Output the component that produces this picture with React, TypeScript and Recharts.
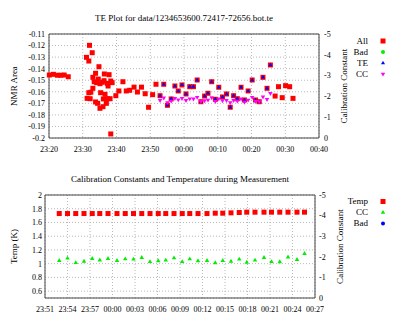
import { ScatterChart, Scatter, XAxis, YAxis, CartesianGrid } from 'recharts'

const FONT = "'Liberation Serif', 'DejaVu Serif', serif"
const AXIS = '#444'
const GRID = '#b8b8b8'

// times are minutes after 23:20
const extraTimes = [
  0.1, 1.3, 2.5, 3.5, 4.5, 5.7,
  12.0, 12.8, 11.1, 11.8, 14.8, 13.8, 13.0, 16.4, 17.8, 14.6, 13.4, 14.1, 15.1, 15.8, 16.3, 17.3, 18.3, 18.7,
  17.5, 13.0, 15.3, 16.6, 11.8, 12.4, 11.3, 12.2, 16.1, 17.3, 18.1, 13.8, 14.4, 17.0, 16.0, 15.1, 18.3,
  19.8, 20.7, 21.9, 22.9, 23.9, 25.2, 26.2, 27.4, 28.5, 29.5, 30.7, 31.7,
  67.0, 68.0, 69.1, 70.1, 71.3, 72.3,
]
const extraNmr = [
  -0.1455, -0.1449, -0.1457, -0.1457, -0.1455, -0.147,
  -0.1198, -0.1262, -0.1302, -0.1334, -0.1383, -0.144, -0.1475, -0.1446, -0.1452, -0.149, -0.1513, -0.1521, -0.153, -0.1518, -0.1504, -0.1527, -0.1507, -0.1521,
  -0.155, -0.157, -0.1608, -0.1622, -0.1608, -0.1604, -0.1657, -0.166, -0.1662, -0.166, -0.166, -0.1688, -0.17, -0.17, -0.1729, -0.1743, -0.1965,
  -0.1634, -0.1593, -0.1513, -0.1593, -0.1587, -0.156, -0.1602, -0.156, -0.1617, -0.1734, -0.1625, -0.1535,
  -0.1637, -0.1556, -0.1651, -0.1547, -0.1556, -0.1657,
]
const teTimes = [
  32.9, 34.0, 35.1, 36.2, 37.3, 38.3, 39.4, 40.6, 41.7, 42.8, 43.9, 45.0, 46.1, 47.1, 48.2, 49.3,
  50.3, 51.4, 52.6, 53.7, 54.7, 55.8, 56.9, 57.9, 59.0, 60.2, 61.2, 62.3, 63.4, 64.6, 65.6,
]
const teNmr = [
  -0.1634, -0.1535, -0.1717, -0.1662, -0.155, -0.1593, -0.1541, -0.1619, -0.1556, -0.1556, -0.1498, -0.1686, -0.1637, -0.1613, -0.1513, -0.1665,
  -0.1561, -0.1645, -0.1619, -0.1734, -0.1634, -0.166, -0.1561, -0.1671, -0.1593, -0.1498, -0.1671, -0.1686, -0.1475, -0.157, -0.1368,
]
const ccValues = [
  -1.81, -1.93, -1.71, -1.78, -1.91, -1.84, -1.91, -1.81, -1.89, -1.88, -1.96, -1.76, -1.8, -1.83, -1.94, -1.76,
  -1.89, -1.8, -1.81, -1.7, -1.81, -1.78, -1.88, -1.73, -1.83, -1.96, -1.76, -1.75, -1.98, -1.86, -2.15,
]
const temps = [
  1.73, 1.73, 1.73, 1.73, 1.73, 1.73, 1.73, 1.73, 1.73, 1.73, 1.73, 1.73, 1.73, 1.73, 1.73, 1.73,
  1.73, 1.73, 1.73, 1.735, 1.735, 1.74, 1.745, 1.75, 1.75, 1.75, 1.75, 1.75, 1.75, 1.75, 1.75,
]

const topTicks = [0, 10, 20, 30, 40, 50, 60, 70, 80]
const topTickLabels = ['23:20', '23:30', '23:40', '23:50', '00:00', '00:10', '00:20', '00:30', '00:40']
const nmrTicks = [-0.2, -0.19, -0.18, -0.17, -0.16, -0.15, -0.14, -0.13, -0.12, -0.11]
const nmrTickLabels = ['-0.2', '-0.19', '-0.18', '-0.17', '-0.16', '-0.15', '-0.14', '-0.13', '-0.12', '-0.11']
const ccTicks = [0, -1, -2, -3, -4, -5]
const ccTickLabels = ['0', '-1', '-2', '-3', '-4', '-5']
const botTicks = [31, 34, 37, 40, 43, 46, 49, 52, 55, 58, 61, 64, 67]
const botTickLabels = ['23:51', '23:54', '23:57', '00:00', '00:03', '00:06', '00:09', '00:12', '00:15', '00:18', '00:21', '00:24', '00:27']
const tempTicks = [0.6, 0.8, 1, 1.2, 1.4, 1.6, 1.8, 2]
const tempTickLabels = ['0.6', '0.8', '1', '1.2', '1.4', '1.6', '1.8', '2']

const topMinor = Array.from({ length: 41 }, (_, i) => i * 2)
const botMinor = Array.from({ length: 37 }, (_, i) => 31 + i)

const allData = [
  ...extraTimes.map((t, i) => ({ t, v: extraNmr[i] })),
  ...teTimes.map((t, i) => ({ t, v: teNmr[i] })),
]
const teData = teTimes.map((t, i) => ({ t, v: teNmr[i] }))
const ccData = teTimes.map((t, i) => ({ t, cc: ccValues[i] }))
const tempData = teTimes.map((t, i) => ({ t, temp: temps[i] }))

const tickStyle = { fontSize: 8, fill: '#000', fontFamily: FONT }

const square = (color: string, s: number) => (p: any) =>
  <rect x={p.cx - s / 2} y={p.cy - s / 2} width={s} height={s} fill={color} />
const triUp = (color: string, s: number) => (p: any) =>
  <polygon points={`${p.cx},${p.cy - s * 0.58} ${p.cx - s / 2},${p.cy + s * 0.29} ${p.cx + s / 2},${p.cy + s * 0.29}`} fill={color} />
const triDown = (color: string, s: number) => (p: any) =>
  <polygon points={`${p.cx},${p.cy + s * 0.58} ${p.cx - s / 2},${p.cy - s * 0.29} ${p.cx + s / 2},${p.cy - s * 0.29}`} fill={color} />

const xMark = (majors: number[], dir: number) => (p: any) => {
  const len = majors.includes(p.payload.value) ? 4 : 2
  return <line x1={p.x} x2={p.x} y1={p.y} y2={p.y + dir * len} stroke={AXIS} />
}
const yMark = (dir: number) => (p: any) =>
  <line x1={p.x} x2={p.x + dir * 4} y1={p.y} y2={p.y} stroke={AXIS} />

const fmt = (ticks: number[], labels: string[]) => (v: number) => {
  const i = ticks.findIndex((t) => Math.abs(t - v) < 1e-6)
  return i >= 0 ? labels[i] : ''
}

const title = (text: string, y: number) => (p: any) => {
  const vb = p.viewBox
  return (
    <text x={vb.x + vb.width / 2} y={y} textAnchor="middle" fontSize={9} fontFamily={FONT} fill="#000">
      {text}
    </text>
  )
}
const vLabel = (text: string, x: number) => (p: any) => {
  const vb = p.viewBox
  const cy = vb.y + vb.height / 2
  return (
    <text x={x} y={cy} transform={`rotate(-90 ${x} ${cy})`} textAnchor="middle" fontSize={9} fontFamily={FONT} fill="#000">
      {text}
    </text>
  )
}

function TopChart() {
  return (
    <ScatterChart width={402} height={160} margin={{ top: 34, right: 63, bottom: 8, left: 9 }}>
      <CartesianGrid stroke={GRID} strokeDasharray="1 2" />
      <XAxis dataKey="t" type="number" domain={[0, 80]} ticks={topTicks} tickFormatter={fmt(topTicks, topTickLabels)}
        interval={0} height={14} tickLine={false} tickSize={0} tickMargin={8} axisLine={{ stroke: AXIS }} tick={tickStyle} />
      <XAxis xAxisId="tm" orientation="top" mirror type="number" domain={[0, 80]} ticks={topMinor} interval={0} height={1}
        tickLine={false} tickSize={0} tickMargin={0} tick={xMark(topTicks, 1)} axisLine={{ stroke: AXIS }}
        label={title('TE Plot for data/1234653600.72417-72656.bot.te', 20.5)} />
      <XAxis xAxisId="bm" orientation="bottom" mirror type="number" domain={[0, 80]} ticks={topMinor} interval={0} height={1}
        tickLine={false} tickSize={0} tickMargin={0} tick={xMark(topTicks, -1)} axisLine={false} />
      <YAxis dataKey="v" type="number" domain={[-0.2, -0.11]} ticks={nmrTicks} tickFormatter={fmt(nmrTicks, nmrTickLabels)}
        interval={0} width={40} tickLine={false} tickSize={0} tickMargin={4} axisLine={{ stroke: AXIS }} tick={tickStyle}
        label={vLabel('NMR Area', 17)} />
      <YAxis yAxisId="lm" orientation="left" mirror type="number" domain={[-0.2, -0.11]} ticks={nmrTicks} interval={0} width={1}
        tickLine={false} tickSize={0} tickMargin={0} tick={yMark(1)} axisLine={false} />
      <YAxis yAxisId="r" dataKey="cc" orientation="right" type="number" domain={[-5, 0]} reversed ticks={ccTicks}
        tickFormatter={fmt(ccTicks, ccTickLabels)} interval={0} width={20} tickLine={false} tickSize={0} tickMargin={5}
        axisLine={{ stroke: AXIS }} tick={tickStyle} label={vLabel('Calibration Constant', 346.5)} />
      <YAxis yAxisId="rm" orientation="right" mirror type="number" domain={[-5, 0]} reversed ticks={ccTicks} interval={0} width={1}
        tickLine={false} tickSize={0} tickMargin={0} tick={yMark(-1)} axisLine={false} />
      <Scatter name="All" data={allData} shape={square('#ff0000', 5)} isAnimationActive={false} />
      <Scatter name="Bad" data={[]} shape={square('#00ee00', 4)} isAnimationActive={false} />
      <Scatter name="TE" data={teData} shape={triUp('#0000ff', 4)} isAnimationActive={false} />
      <Scatter name="CC" data={ccData} yAxisId="r" shape={triDown('#ff00ff', 4.5)} isAnimationActive={false} />
    </ScatterChart>
  )
}

function BottomChart() {
  return (
    <ScatterChart width={402} height={161} margin={{ top: 35, right: 67, bottom: 9, left: 5 }}>
      <CartesianGrid stroke={GRID} strokeDasharray="1 2" />
      <XAxis dataKey="t" type="number" domain={[31, 67]} ticks={botTicks} tickFormatter={fmt(botTicks, botTickLabels)}
        interval={0} height={14} tickLine={false} tickSize={0} tickMargin={8} axisLine={{ stroke: AXIS }} tick={tickStyle} />
      <XAxis xAxisId="tm" orientation="top" mirror type="number" domain={[31, 67]} ticks={botMinor} interval={0} height={1}
        tickLine={false} tickSize={0} tickMargin={0} tick={xMark(botTicks, 1)} axisLine={{ stroke: AXIS }}
        label={title('Calibration Constants and Temperature during Measurement', 22)} />
      <XAxis xAxisId="bm" orientation="bottom" mirror type="number" domain={[31, 67]} ticks={botMinor} interval={0} height={1}
        tickLine={false} tickSize={0} tickMargin={0} tick={xMark(botTicks, -1)} axisLine={false} />
      <YAxis dataKey="temp" type="number" domain={[0.5, 2]} ticks={tempTicks} tickFormatter={fmt(tempTicks, tempTickLabels)}
        interval={0} width={40} tickLine={false} tickSize={0} tickMargin={3} axisLine={{ stroke: AXIS }} tick={tickStyle}
        label={vLabel('Temp (K)', 16.5)} />
      <YAxis yAxisId="lm" orientation="left" mirror type="number" domain={[0.5, 2]} ticks={tempTicks} interval={0} width={1}
        tickLine={false} tickSize={0} tickMargin={0} tick={yMark(1)} axisLine={false} />
      <YAxis yAxisId="r" dataKey="cc" orientation="right" type="number" domain={[-5, 0]} reversed ticks={ccTicks}
        tickFormatter={fmt(ccTicks, ccTickLabels)} interval={0} width={20} tickLine={false} tickSize={0} tickMargin={4}
        axisLine={{ stroke: AXIS }} tick={tickStyle} label={vLabel('Calibration Constant', 342.5)} />
      <YAxis yAxisId="rm" orientation="right" mirror type="number" domain={[-5, 0]} reversed ticks={ccTicks} interval={0} width={1}
        tickLine={false} tickSize={0} tickMargin={0} tick={yMark(-1)} axisLine={false} />
      <Scatter name="Temp" data={tempData} shape={square('#ff0000', 5)} isAnimationActive={false} />
      <Scatter name="CC" data={ccData} yAxisId="r" shape={triUp('#00ee00', 4.5)} isAnimationActive={false} />
      <Scatter name="Bad" data={[]} shape={square('#0000ff', 4)} isAnimationActive={false} />
    </ScatterChart>
  )
}

const topLegend = [
  { name: 'All', y: 41, marker: square('#ff0000', 5) },
  { name: 'Bad', y: 52, marker: (p: any) => <circle cx={p.cx} cy={p.cy} r={2} fill="#00ee00" /> },
  { name: 'TE', y: 63, marker: triUp('#0000ff', 4) },
  { name: 'CC', y: 74, marker: triDown('#ff00ff', 4.5) },
]
const botLegend = [
  { name: 'Temp', y: 201.5, marker: square('#ff0000', 5) },
  { name: 'CC', y: 212.5, marker: triUp('#00ee00', 4.5) },
  { name: 'Bad', y: 223.5, marker: (p: any) => <circle cx={p.cx} cy={p.cy} r={2} fill="#0000ff" /> },
]

export default function App() {
  return (
    <div style={{ position: 'absolute', left: 0, top: 0, width: 402, height: 321, background: '#fff' }}>
      <TopChart />
      <div style={{ position: 'absolute', left: 0, top: 160 }}>
        <BottomChart />
      </div>
      <svg width={402} height={321} style={{ position: 'absolute', left: 0, top: 0, pointerEvents: 'none' }}>
        {[...topLegend, ...botLegend].map((e) => (
          <g key={e.name + e.y}>
            <text x={368} y={e.y} dy="0.33em" textAnchor="end" fontSize={9} fontFamily={FONT} fill="#000">{e.name}</text>
            {e.marker({ cx: 383, cy: e.y })}
          </g>
        ))}
      </svg>
    </div>
  )
}
